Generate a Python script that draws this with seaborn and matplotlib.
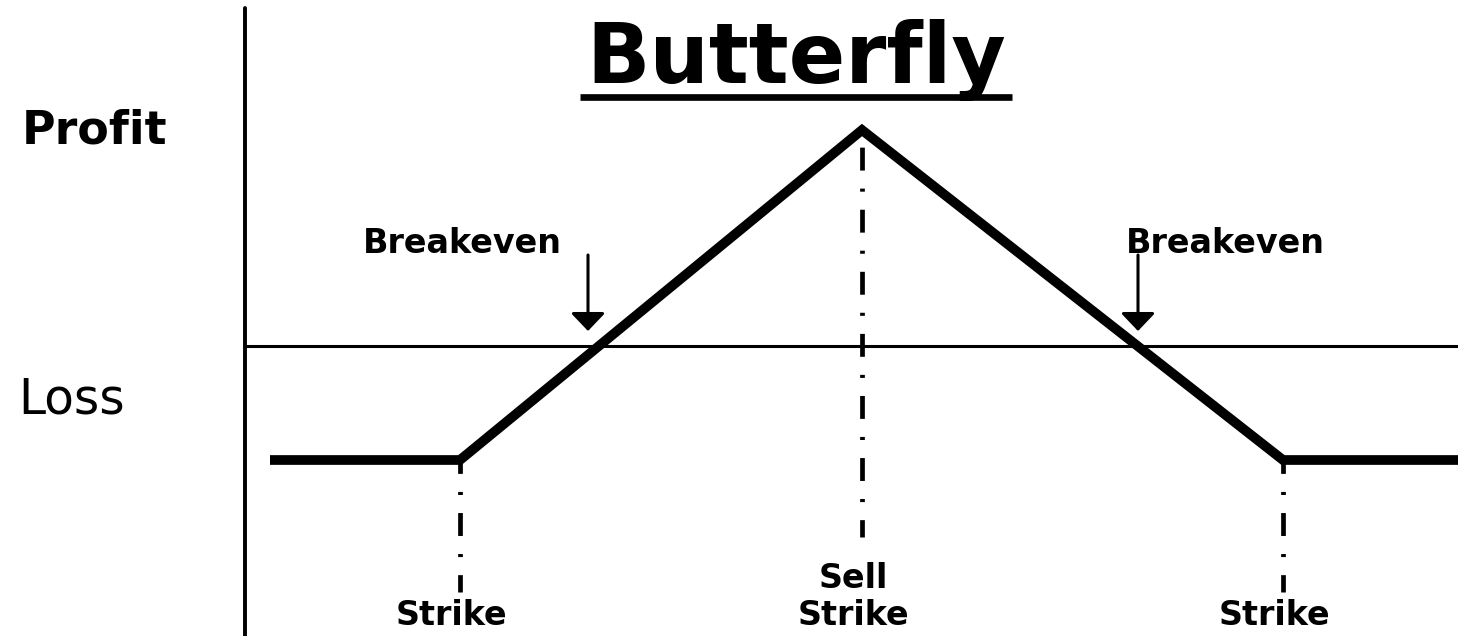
import matplotlib
matplotlib.use("Agg")
import matplotlib.pyplot as plt
import seaborn as sns
import pandas as pd

# payoff diagram values (price units ~ pixel columns, profit units ~ pixel rows)
price = [270, 460, 862, 1283, 1458]
payoff = [-114, -114, 216, -114, -114]

strikes = [460, 862, 1283]
strike_top = [-114, 216, -114]
strike_bottom = [-246, -191, -246]
strike_labels = ["Strike", "Sell\nStrike", "Strike"]

breakeven_arrow_x = [588, 1138]
breakeven_text_x = [462, 1225]

sns.set_theme(style="white")
plt.rcParams["font.family"] = ["DejaVu Sans"]
plt.rcParams["text.color"] = "black"
plt.rcParams["lines.scale_dashes"] = False

fig = plt.figure(figsize=(14.58, 6.36), dpi=100)
ax = fig.add_axes([0, 0, 1, 1])

df = pd.DataFrame({"price": price, "payoff": payoff})
sns.lineplot(data=df, x="price", y="payoff", color="black", linewidth=7,
             ax=ax, solid_capstyle="butt", solid_joinstyle="miter")

ax.set_xlim(0, 1458)
ax.set_ylim(-290, 346)
ax.axis("off")

# axes: vertical profit/loss axis and zero line
ax.axvline(245, ymin=0, ymax=(338 + 290) / 636, color="black", lw=2.8)
ax.axhline(0, xmin=245 / 1458, xmax=1, color="black", lw=2.2)

# dash-dot strike markers
ax.vlines(strikes, strike_bottom, strike_top, colors="black", linewidth=3.4,
          linestyles=[(4, (16.5, 13, 2.2, 13))])

# strike labels
for x, lab in zip(strikes, strike_labels):
    ax.text(x - 9, -279, lab, ha="center", va="baseline", fontsize=24,
            fontweight="bold", linespacing=1.15, color="black")

# breakeven arrows and labels
for ax_x, tx in zip(breakeven_arrow_x, breakeven_text_x):
    ax.text(tx, 93, "Breakeven", ha="center", va="baseline", fontsize=24,
            fontweight="bold", color="black")
    ax.annotate("", xy=(ax_x, 15), xytext=(ax_x, 91),
                arrowprops=dict(arrowstyle="-|>,head_length=11,head_width=10.5",
                                mutation_scale=1, color="black", lw=2.2,
                                shrinkA=0, shrinkB=0))

ax.text(22, 203, "Profit", ha="left", va="baseline", fontsize=33,
        fontweight="bold", color="black")
ax.text(18, -67, "Loss", ha="left", va="baseline", fontsize=35,
        color="black")

title = ax.text(796, 263, "Butterfly", ha="center", va="baseline",
                fontsize=60, fontweight="bold", color="black")

# underline the title
fig.canvas.draw()
bb = title.get_window_extent().transformed(ax.transData.inverted())
ax.plot([bb.x0 - 6, bb.x1 + 6], [249, 249], color="black", lw=4.8,
        solid_capstyle="butt")

fig.savefig("out.png", dpi=100, facecolor="white")
